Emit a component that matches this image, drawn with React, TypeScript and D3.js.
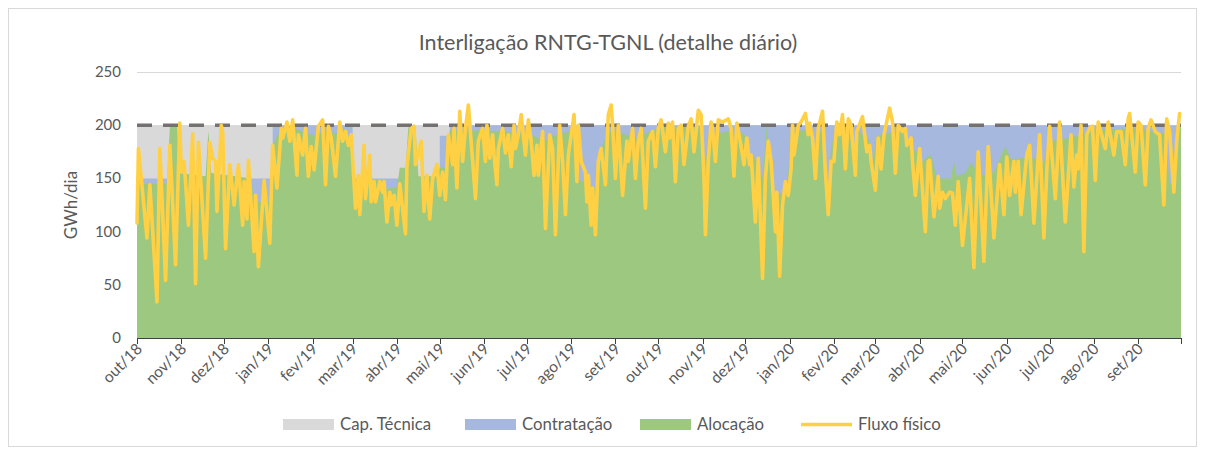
import React, { useRef, useEffect } from "react";
import * as d3 from "d3";

// day 0 = 1 Oct 2018
const startDate = new Date(2018, 9, 1);

const monthLabels = [
  "out/18", "nov/18", "dez/18", "jan/19", "fev/19", "mar/19", "abr/19", "mai/19",
  "jun/19", "jul/19", "ago/19", "set/19", "out/19", "nov/19", "dez/19", "jan/20",
  "fev/20", "mar/20", "abr/20", "mai/20", "jun/20", "jul/20", "ago/20", "set/20",
];
const yTicks = [0, 50, 100, 150, 200, 250];

// Cap. Técnica (step start day, value)
const capDay = [0];
const capValue = [200];

// Contratação (step start day, value)
const contractDay = [0, 95, 151, 212, 219];
const contractValue = [150, 200, 150, 190, 200];

// Alocação (day, value)
const allocDay = [
  0, 2, 21, 23, 28, 30, 48, 50, 52, 80, 82, 92, 95, 98, 105, 120, 124, 132, 145, 150,
  151, 172, 175, 182, 184, 188, 190, 195, 197, 211, 212, 218, 219, 245, 275, 285, 292, 305, 308, 322,
  325, 330, 340, 350, 360, 370, 395, 397, 400, 416, 418, 420, 426, 428, 432, 438, 441, 443, 446, 455,
  458, 473, 475, 477, 481, 483, 486, 490, 500, 502, 505, 513, 515, 518, 535, 540, 546, 550, 553, 556,
  560, 570, 572, 574, 580, 584, 590, 600, 608, 612, 625, 635, 640, 660, 670, 700, 720, 723, 727, 730,
];
const allocValue = [
  108, 145, 145, 198, 200, 155, 152, 195, 155, 150, 128, 128, 180, 190, 200, 192, 190, 195, 190, 190,
  150, 148, 140, 142, 160, 160, 198, 198, 152, 152, 160, 160, 195, 195, 192, 185, 190, 195, 150, 140,
  178, 195, 192, 188, 195, 198, 198, 140, 190, 195, 160, 196, 190, 160, 170, 150, 200, 160, 135, 135,
  195, 195, 160, 195, 195, 116, 180, 198, 198, 165, 195, 185, 165, 190, 195, 180, 175, 165, 170, 172,
  150, 150, 166, 152, 155, 165, 152, 156, 180, 168, 170, 165, 185, 190, 196, 197, 192, 145, 145, 200,
];

// Fluxo físico (day, value)
const fluxDay = [
  0, 1, 7, 9, 14, 16, 20, 23, 27, 30, 31, 33, 36, 39, 41, 43, 48, 51, 53, 55, 56, 59,
  60, 62, 65, 68, 71, 74, 75, 77, 78, 82, 83, 85, 89, 93, 95, 98, 101, 102, 105, 107, 109, 112, 113, 116, 118, 120, 122,
  124, 127, 130, 132, 134, 136, 139, 142, 144, 146, 148, 150, 153, 155, 156, 159, 160, 163, 164, 166, 167, 170, 172, 173, 175, 177, 178, 180, 182, 184,
  188, 189, 192, 194, 195, 199, 201, 203, 205, 207, 210, 212, 214, 216, 218, 221, 222, 224, 226, 228, 230, 232, 237, 239, 242, 244, 245,
  247, 249, 250, 252, 253, 256, 258, 260, 262, 264, 265, 267, 269, 272, 274, 276, 278, 280, 281, 284, 286, 289, 291, 293, 296, 298, 300, 302, 305, 306,
  308, 309, 311, 314, 315, 316, 318, 319, 321, 323, 325, 328, 330, 332, 333, 335, 337, 340, 343, 344, 347, 349, 351, 353, 356, 358, 361, 363, 365,
  367, 370, 372, 373, 375, 377, 379, 381, 383, 386, 388, 390, 393, 395, 397, 398, 400, 402, 403, 405, 407, 410, 414, 416, 418, 420, 422, 425, 427, 429,
  430, 433, 435, 438, 440, 442, 444, 447, 448, 450, 452, 454, 456, 458, 459, 460, 463, 465, 468, 470, 471, 473, 475, 477, 480, 482, 484, 486, 488, 490,
  492, 494, 496, 498, 500, 503, 504, 508, 511, 513, 514, 517, 519, 521, 523, 527, 529, 531, 533, 536, 538, 539, 542, 543, 545, 548, 552,
  554, 555, 558, 561, 562, 564, 566, 569, 571, 573, 575, 578, 583, 586, 589, 593, 596, 600, 604, 607, 609, 611, 614,
  615, 617, 619, 623, 625, 628, 632, 635, 637, 639, 643, 646, 650, 654, 656, 658, 659, 661, 663, 665, 667, 669, 671, 673, 676,
  678, 680, 684, 686, 689, 692, 694, 695, 699, 701, 703, 706, 708, 710, 713, 716, 719, 721, 723, 726, 728, 730,
];
const fluxValue = [
  108, 178, 94, 144, 34, 178, 54, 181, 69, 202, 156, 166, 106, 192, 51, 184, 75, 184, 169, 166, 119, 200,
  194, 84, 163, 125, 163, 106, 147, 112, 167, 81, 134, 67, 148, 89, 181, 141, 197, 188, 203, 185, 205, 153, 191, 172, 197, 152, 180,
  158, 199, 205, 144, 199, 188, 152, 203, 185, 194, 181, 191, 122, 153, 116, 181, 131, 172, 128, 147, 128, 147, 137, 147, 109, 137, 125, 134, 106, 145,
  98, 161, 197, 199, 163, 185, 119, 153, 112, 150, 163, 134, 156, 130, 191, 163, 197, 141, 213, 166, 197, 219, 131, 185, 197, 166, 200,
  169, 191, 172, 144, 178, 197, 174, 191, 161, 200, 178, 191, 210, 172, 205, 185, 153, 181, 153, 194, 103, 191, 178, 97, 200, 166, 116, 172, 200, 210,
  147, 200, 166, 156, 128, 153, 106, 141, 97, 166, 178, 144, 210, 219, 200, 150, 200, 134, 185, 166, 197, 150, 185, 197, 122, 185, 194, 161, 197,
  205, 175, 202, 188, 203, 147, 197, 200, 163, 199, 206, 175, 214, 210, 150, 97, 166, 203, 197, 166, 205, 203, 206, 197, 152, 202, 188, 163, 188, 163,
  172, 109, 169, 56, 150, 185, 166, 100, 137, 58, 125, 147, 134, 159, 200, 172, 200, 203, 211, 191, 202, 188, 150, 197, 213, 156, 116, 166, 166, 203,
  191, 210, 159, 206, 200, 153, 194, 208, 175, 181, 166, 139, 188, 159, 191, 216, 203, 155, 200, 194, 197, 181, 188, 166, 134, 178, 100,
  166, 167, 114, 152, 122, 137, 131, 137, 136, 106, 147, 87, 150, 66, 175, 72, 180, 94, 163, 116, 170, 134, 166,
  137, 166, 116, 172, 181, 108, 191, 94, 156, 199, 131, 203, 109, 191, 142, 172, 159, 200, 81, 191, 197, 199, 148, 203, 188,
  178, 203, 172, 194, 194, 163, 206, 211, 156, 203, 200, 144, 197, 205, 194, 191, 125, 206, 194, 137, 185, 211,
];

const FONT = "Lato, 'Liberation Sans', sans-serif";
const TEXT = "#595959";
const GREY = "#d9d9d9";
const BLUE = "#a7b8de";
const GREEN = "#9cc880";
const YELLOW = "#ffd044";

export default function App() {
  const svgRef = useRef<SVGSVGElement>(null);

  useEffect(() => {
    if (!svgRef.current) return;
    const width = 1205;
    const height = 455;
    const dayToDate = (d: number) => d3.timeDay.offset(startDate, d);
    const endDate = new Date(2020, 9, 1);

    const svg = d3.select(svgRef.current);
    svg.selectAll("*").remove();
    svg.attr("width", width).attr("height", height);

    // chart border
    svg.append("rect")
      .attr("x", 8.5).attr("y", 8.5).attr("width", 1188).attr("height", 438)
      .attr("fill", "#fff").attr("stroke", GREY);

    const x = d3.scaleTime().domain([startDate, endDate]).range([137, 1181]);
    const y = d3.scaleLinear().domain([0, 250]).range([338, 72]);

    // gridlines
    svg.append("g").selectAll("line").data(yTicks.filter((t) => t > 0)).join("line")
      .attr("x1", 137).attr("x2", 1181)
      .attr("y1", (d) => y(d) + 0.5).attr("y2", (d) => y(d) + 0.5)
      .attr("stroke", GREY);

    type P = { date: Date; v: number };
    const stepPoints = (days: number[], vals: number[]): P[] => {
      const pts = days.map((d, i) => ({ date: dayToDate(d), v: vals[i] }));
      pts.push({ date: endDate, v: vals[vals.length - 1] });
      return pts;
    };
    const capPts = stepPoints(capDay, capValue);
    const contractPts = stepPoints(contractDay, contractValue);
    const allocPts: P[] = allocDay.map((d, i) => ({ date: dayToDate(d), v: allocValue[i] }));
    allocPts.push({ date: endDate, v: allocValue[allocValue.length - 1] });
    const fluxPts: P[] = fluxDay.map((d, i) => ({ date: dayToDate(d), v: fluxValue[i] }));

    const stepArea = d3.area<P>().x((d) => x(d.date)).y0(y(0)).y1((d) => y(d.v)).curve(d3.curveStepAfter);
    const area = d3.area<P>().x((d) => x(d.date)).y0(y(0)).y1((d) => y(d.v));

    svg.append("path").datum(capPts).attr("d", stepArea).attr("fill", GREY);
    svg.append("path").datum(contractPts).attr("d", stepArea).attr("fill", BLUE);
    svg.append("path").datum(allocPts).attr("d", area).attr("fill", GREEN);

    // Cap. Técnica dashed top
    svg.append("path").datum(capPts)
      .attr("d", d3.line<P>().x((d) => x(d.date)).y((d) => y(d.v)).curve(d3.curveStepAfter))
      .attr("fill", "none").attr("stroke", "#767171").attr("stroke-width", 3.5)
      .attr("stroke-dasharray", "15,11");

    // Fluxo físico
    svg.append("path").datum(fluxPts)
      .attr("d", d3.line<P>().x((d) => x(d.date)).y((d) => y(d.v)))
      .attr("fill", "none").attr("stroke", YELLOW).attr("stroke-width", 3.6)
      .attr("stroke-linejoin", "round").attr("stroke-linecap", "round");

    // x axis
    const months = d3.timeMonth.range(startDate, d3.timeDay.offset(endDate, 1));
    const xa = svg.append("g");
    xa.append("line").attr("x1", 137).attr("x2", 1181).attr("y1", 338.5).attr("y2", 338.5)
      .attr("stroke", "#404040").attr("stroke-width", 1);
    xa.selectAll("line.tick").data(months).join("line").attr("class", "tick")
      .attr("x1", (d) => Math.round(x(d)) + 0.5).attr("x2", (d) => Math.round(x(d)) + 0.5)
      .attr("y1", 338).attr("y2", 344).attr("stroke", "#404040");
    xa.selectAll("text").data(monthLabels).join("text")
      .attr("transform", (_d, i) => `translate(${x(months[i]) + 6},${350}) rotate(-45)`)
      .attr("text-anchor", "end").attr("font-family", FONT).attr("font-size", 15.5)
      .attr("fill", TEXT).text((d) => d);

    // y axis labels
    svg.append("g").selectAll("text").data(yTicks).join("text")
      .attr("x", 121).attr("y", (d) => y(d) + 5).attr("text-anchor", "end")
      .attr("font-family", FONT).attr("font-size", 15).attr("fill", TEXT).text((d) => d);
    svg.append("text")
      .attr("transform", "translate(77,205) rotate(-90)").attr("text-anchor", "middle")
      .attr("font-family", FONT).attr("font-size", 17).attr("fill", TEXT).text("GWh/dia");

    // title
    svg.append("text").attr("x", 608).attr("y", 50).attr("text-anchor", "middle")
      .attr("font-family", FONT).attr("font-size", 21.5).attr("fill", TEXT)
      .text("Interligação RNTG-TGNL (detalhe diário)");

    // legend
    const legend = [
      { label: "Cap. Técnica", color: GREY, x: 283, kind: "box" },
      { label: "Contratação", color: BLUE, x: 465, kind: "box" },
      { label: "Alocação", color: GREEN, x: 640, kind: "box" },
      { label: "Fluxo físico", color: YELLOW, x: 801, kind: "line" },
    ];
    const lg = svg.append("g").selectAll("g").data(legend).join("g");
    lg.each(function (d) {
      const g = d3.select(this);
      if (d.kind === "box") {
        g.append("rect").attr("x", d.x).attr("y", 419).attr("width", 51).attr("height", 11).attr("fill", d.color);
      } else {
        g.append("line").attr("x1", d.x).attr("x2", d.x + 51).attr("y1", 424.5).attr("y2", 424.5)
          .attr("stroke", d.color).attr("stroke-width", 3.6);
      }
      g.append("text").attr("x", d.x + 57).attr("y", 430).attr("font-family", FONT)
        .attr("font-size", 16.8).attr("fill", TEXT).text(d.label);
    });
  }, []);

  return <svg ref={svgRef} style={{ position: "absolute", left: 0, top: 0 }}></svg>;
}
